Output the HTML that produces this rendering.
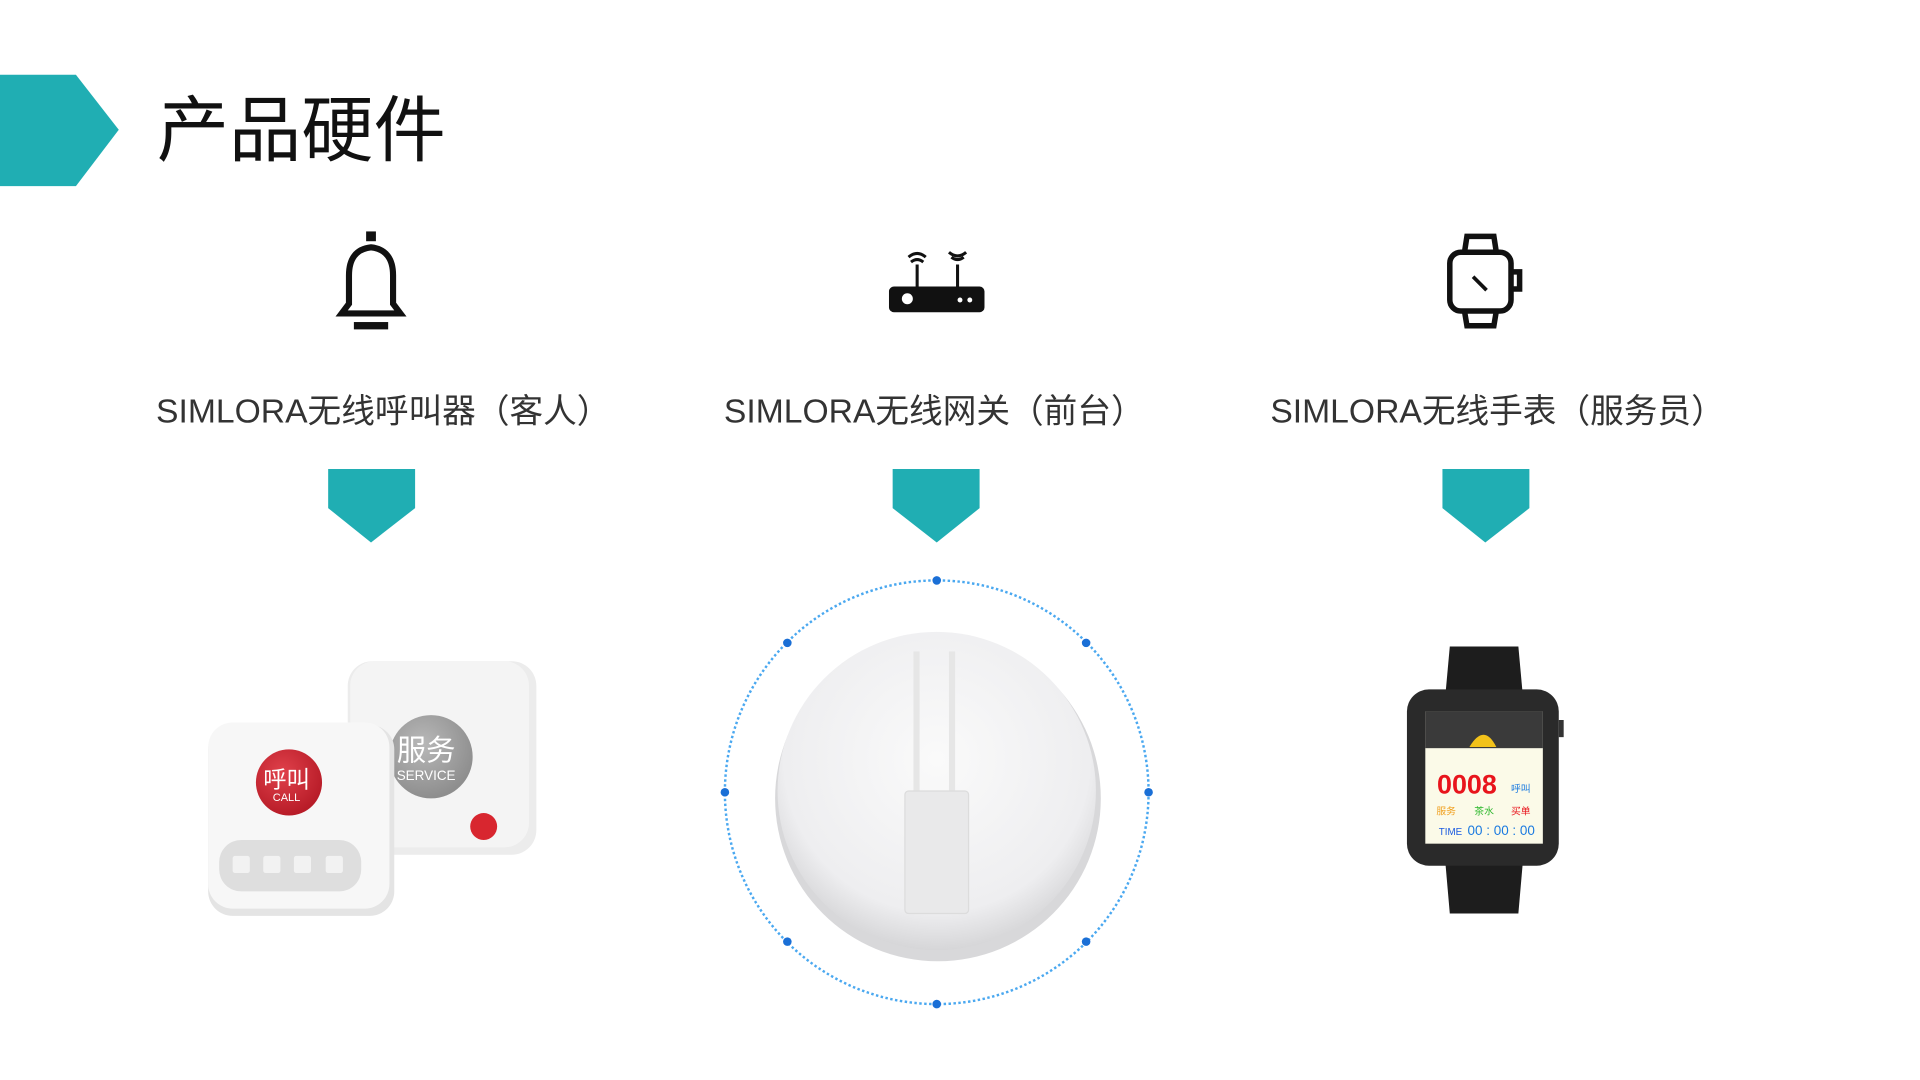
<!DOCTYPE html>
<html><head><meta charset="utf-8"><style>
html,body{margin:0;padding:0;background:#fff;width:1920px;height:1080px;overflow:hidden}
svg{display:block}
text{font-family:"Liberation Sans","Noto Sans CJK SC",sans-serif}
</style></head><body>
<svg width="1920" height="1080" viewBox="0 0 1568 882" xmlns="http://www.w3.org/2000/svg">
<defs>
<radialGradient id="disc" cx="50%" cy="40%" r="60%"><stop offset="0" stop-color="#fafafa"/><stop offset="0.8" stop-color="#eeeef0"/><stop offset="1" stop-color="#d6d6d8"/></radialGradient>
<radialGradient id="red" cx="40%" cy="35%" r="65%"><stop offset="0" stop-color="#e0414b"/><stop offset="1" stop-color="#b81c28"/></radialGradient>
<radialGradient id="gray" cx="40%" cy="35%" r="65%"><stop offset="0" stop-color="#b8b8b8"/><stop offset="1" stop-color="#8e8e8e"/></radialGradient>
</defs>
<rect width="1568" height="882" fill="#fff"/>
<polygon points="0,61 62,61 97,106 62,152 0,152" fill="#20aeb3"/>
<text x="128" y="127" font-size="59" fill="#111">产品硬件</text>

<g fill="none" stroke="#111" stroke-width="5">
<path d="M279,256 L285,248 L285,225 Q285,204 303,202 Q321,204 321,225 L321,248 L327,256 Z"/>
</g>
<rect x="299" y="189" width="8" height="8" fill="#111"/>
<rect x="289" y="263" width="28" height="6" fill="#111"/>
<rect x="726" y="234" width="78" height="21" rx="4" fill="#111"/>
<circle cx="741" cy="244" r="4.5" fill="#fff"/><circle cx="784" cy="245" r="2" fill="#fff"/><circle cx="792" cy="245" r="2" fill="#fff"/>
<g stroke="#111" stroke-width="2.5" fill="none">
<line x1="749" y1="216" x2="749" y2="234"/><line x1="782" y1="216" x2="782" y2="234"/>
<path d="M742,210 Q749,204 756,210"/><path d="M744,214 Q749,210 754,214"/>
<path d="M775,206 Q782,212 789,206"/><path d="M777,210 Q782,214 787,210"/>
</g>
<g fill="none" stroke="#111" stroke-width="4.5">
<rect x="1184" y="206" width="50" height="48" rx="9"/>
<path d="M1196,206 L1198,193 L1220,193 L1222,206"/>
<path d="M1196,254 L1198,266 L1220,266 L1222,254"/>
<path d="M1234,222 L1241,222 L1241,236 L1234,236"/>
</g>
<line x1="1203" y1="226" x2="1214" y2="237" stroke="#111" stroke-width="3"/>

<g font-size="27.5" fill="#333" text-anchor="middle">
<text x="313" y="345">SIMLORA无线呼叫器（客人）</text>
<text x="763" y="345">SIMLORA无线网关（前台）</text>
<text x="1223" y="345">SIMLORA无线手表（服务员）</text>
</g>
<g fill="#20aeb3">
<polygon points="268,383 339,383 339,415 303,443 268,415"/>
<polygon points="729,383 800,383 800,415 765,443 729,415"/>
<polygon points="1178,383 1249,383 1249,415 1213,443 1178,415"/>
</g>

<circle cx="765" cy="647" r="173" fill="none" stroke="#4aa8f0" stroke-width="2" stroke-dasharray="2 2"/>
<g fill="#1a6fd6">
<circle cx="765" cy="474" r="3.5"/><circle cx="765" cy="820" r="3.5"/><circle cx="592" cy="647" r="3.5"/><circle cx="938" cy="647" r="3.5"/>
<circle cx="643" cy="525" r="3.5"/><circle cx="887" cy="525" r="3.5"/><circle cx="643" cy="769" r="3.5"/><circle cx="887" cy="769" r="3.5"/>
</g>
<circle cx="766" cy="652" r="133" fill="#d8d8da"/>
<circle cx="765" cy="646" r="130" fill="url(#disc)"/>
<rect x="746" y="532" width="5" height="118" fill="#e6e6e6"/><rect x="775" y="532" width="5" height="118" fill="#e6e6e6"/>
<rect x="739" y="646" width="52" height="100" rx="3" fill="#e9e9ea" stroke="#dcdcdc"/>

<rect x="284" y="540" width="154" height="158" rx="20" fill="#ececec"/>
<rect x="286" y="540" width="146" height="152" rx="20" fill="#f4f4f4"/>
<circle cx="352" cy="618" r="34" fill="url(#gray)"/>
<text x="348" y="621" font-size="24" fill="#fff" text-anchor="middle">服务</text>
<text x="348" y="637" font-size="11" fill="#fff" text-anchor="middle">SERVICE</text>
<circle cx="395" cy="675" r="11" fill="#d8262f"/>
<rect x="170" y="592" width="152" height="156" rx="20" fill="#e4e4e4"/>
<rect x="170" y="590" width="148" height="152" rx="20" fill="#f7f7f7"/>
<circle cx="236" cy="639" r="27" fill="url(#red)"/>
<text x="234" y="643" font-size="19" fill="#fff" text-anchor="middle">呼叫</text>
<text x="234" y="654" font-size="9" fill="#fff" text-anchor="middle">CALL</text>
<rect x="179" y="686" width="116" height="42" rx="18" fill="#dedede"/>
<g fill="#f2f2f2"><rect x="190" y="699" width="14" height="14" rx="2"/><rect x="215" y="699" width="14" height="14" rx="2"/><rect x="240" y="699" width="14" height="14" rx="2"/><rect x="266" y="699" width="14" height="14" rx="2"/></g>

<path d="M1184,528 L1240,528 L1244,572 L1180,572 Z" fill="#1d1d1d"/>
<path d="M1180,700 L1244,700 L1240,746 L1184,746 Z" fill="#1d1d1d"/>
<rect x="1149" y="563" width="124" height="144" rx="18" fill="#2a2a2a"/>
<rect x="1273" y="588" width="4" height="14" fill="#333"/>
<rect x="1164" y="581" width="96" height="108" fill="#fbfae8"/>
<rect x="1164" y="581" width="96" height="30" fill="#3a3a3a"/>
<path d="M1200,610 Q1212,590 1222,610 Z" fill="#f2c21a"/>
<text x="1198" y="648" font-size="22" fill="#e8141c" text-anchor="middle" font-weight="bold">0008</text>
<text x="1242" y="647" font-size="8" fill="#1a7ae0" text-anchor="middle">呼叫</text>
<text x="1181" y="665" font-size="8" fill="#f0a020" text-anchor="middle">服务</text>
<text x="1212" y="665" font-size="8" fill="#2db82d" text-anchor="middle">茶水</text>
<text x="1242" y="665" font-size="8" fill="#e8141c" text-anchor="middle">买单</text>
<text x="1175" y="682" font-size="8" fill="#1a5ae0">TIME</text>
<text x="1226" y="682" font-size="11" fill="#1a7ae0" text-anchor="middle">00 : 00 : 00</text>
</svg>
</body></html>
